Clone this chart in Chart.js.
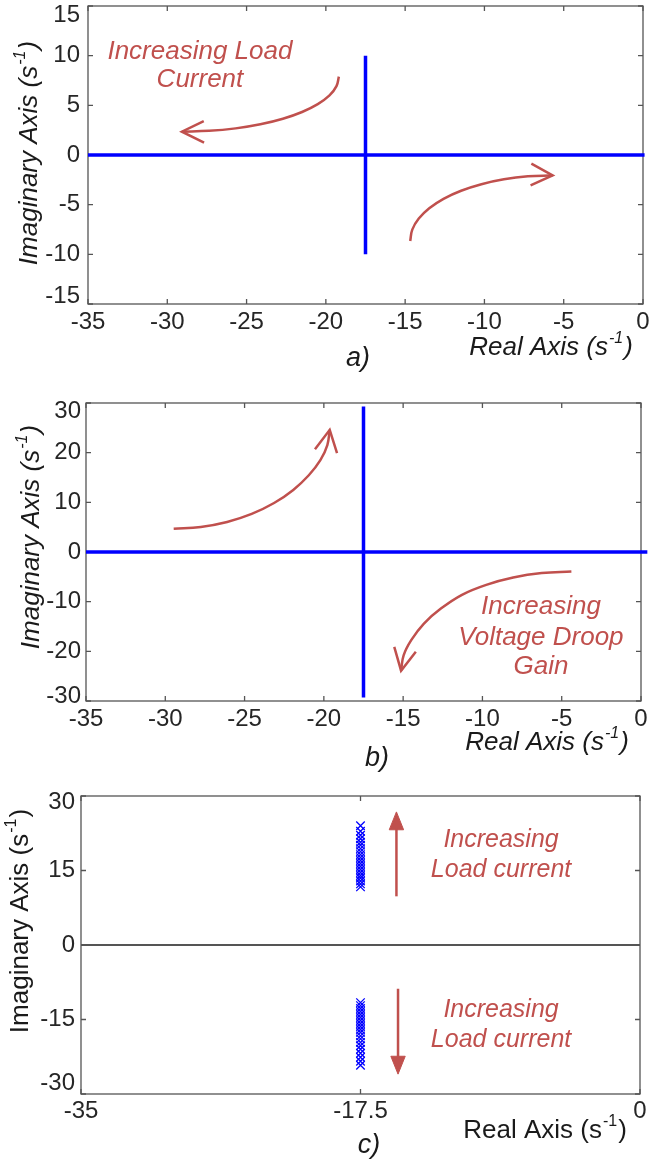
<!DOCTYPE html>
<html>
<head>
<meta charset="utf-8">
<script src="https://cdn.jsdelivr.net/npm/chart.js@4.4.0/dist/chart.umd.min.js"></script>
<style>
  html, body { margin: 0; padding: 0; background: #fff; }
  body { width: 666px; height: 1164px; position: relative; overflow: hidden; }
  canvas { position: absolute; left: 0; }
</style>
</head>
<body>
<canvas id="chartA"></canvas>
<canvas id="chartB"></canvas>
<canvas id="chartC"></canvas>
<script>
// ---------- a) load current sweep ----------
const aXTicks = [-35, -30, -25, -20, -15, -10, -5, 0];
const aYTicks = [-15, -10, -5, 0, 5, 10, 15];
const aRealBranchX = [-35, 0.1];
const aRealBranchY = [0, 0];
const aImagBranchX = [-17.5, -17.5];
const aImagBranchY = [-10, 10];
const aArrow1X = [-19.18, -19.33, -19.77, -20.51, -21.5, -22.71, -24.13, -25.69, -27.36, -29.08];
const aArrow1Y = [7.89, 6.93, 6.0, 5.12, 4.33, 3.65, 3.09, 2.68, 2.43, 2.35];
const aHead1X = [-27.7, -29.08, -27.68];
const aHead1Y = [3.42, 2.35, 1.24];
const aArrow2X = [-14.68, -14.55, -14.14, -13.48, -12.58, -11.47, -10.19, -8.77, -7.26, -5.7];
const aArrow2Y = [-8.66, -7.51, -6.4, -5.36, -4.41, -3.6, -2.94, -2.45, -2.15, -2.05];
const aHead2X = [-7.04, -5.7, -7.09];
const aHead2Y = [-0.87, -2.05, -3.05];

// ---------- b) voltage droop gain sweep ----------
const bXTicks = [-35, -30, -25, -20, -15, -10, -5, 0];
const bYTicks = [-30, -20, -10, 0, 10, 20, 30];
const bRealBranchX = [-35, 0.4];
const bRealBranchY = [0, 0];
const bImagBranchX = [-17.5, -17.5];
const bImagBranchY = [-29.3, 29.3];
const bArrow1X = [-29.47, -27.76, -26.1, -24.55, -23.14, -21.93, -20.95, -20.22, -19.78, -19.63];
const bArrow1Y = [4.7, 5.05, 6.05, 7.67, 9.86, 12.5, 15.45, 18.49, 21.54, 24.6];
const bHead1X = [-20.56, -19.63, -19.17];
const bHead1Y = [20.7, 24.6, 19.9];
const bArrow2X = [-4.39, -6.26, -8.06, -9.76, -11.29, -12.62, -13.69, -14.48, -14.97, -15.13];
const bArrow2Y = [-3.95, -4.25, -5.15, -6.62, -8.62, -11.4, -14.4, -17.7, -20.8, -23.9];
const bHead2X = [-15.56, -15.13, -14.2];
const bHead2Y = [-19.1, -23.9, -20.1];

// ---------- c) poles for increasing load current ----------
const cXTicks = [-35, -17.5, 0];
const cYTicks = [-30, -15, 0, 15, 30];
const cPoleReal = -17.5;
const cUpperImag = [11.7, 12.3, 12.9, 13.5, 14.0, 14.6, 15.2, 15.8, 16.4, 17.0, 17.6, 18.2, 18.8, 19.4, 20.1, 20.7, 21.4, 22.1, 22.9, 24.0];
const cLowerImag = [-11.6, -12.2, -12.8, -13.4, -14.0, -14.6, -15.2, -15.8, -16.4, -17.0, -17.6, -18.3, -18.9, -19.6, -20.3, -21.0, -21.8, -22.6, -23.4, -24.2];
const cUpShaftX = [-15.25, -15.25];
const cUpShaftY = [9.8, 23.5];
const cUpHeadX = [-15.7, -15.25, -14.8, -15.7];
const cUpHeadY = [23.2, 26.8, 23.2, 23.2];
const cDownShaftX = [-15.15, -15.15];
const cDownShaftY = [-8.8, -22.6];
const cDownHeadX = [-15.6, -15.15, -14.7, -15.6];
const cDownHeadY = [-22.4, -26.0, -22.4, -22.4];

const FONT = "'Liberation Sans', Arial, sans-serif";
const RED = '#c0504d';
const BLUE = '#0000ff';
const INK = '#1a1a1a';

function pts(xs, ys) {
  return xs.map((x, i) => ({ x: x, y: ys[i] }));
}

function lineSet(xs, ys, color, width, extra) {
  return Object.assign({
    data: pts(xs, ys),
    showLine: true,
    borderColor: color,
    borderWidth: width,
    pointRadius: 0,
    fill: false
  }, extra || {});
}

function curve(xs, ys) {
  return lineSet(xs, ys, RED, 2.5, { tension: 0.4 });
}

// text with a superscript part, centred on (x, y)
function supText(ctx, base, sup, tail, x, y, size, italic, rotate) {
  const st = italic ? 'italic ' : '';
  const f = st + size + 'px ' + FONT;
  const fs = st + Math.round(size * 0.6) + 'px ' + FONT;
  ctx.save();
  ctx.translate(x, y);
  if (rotate) ctx.rotate(-Math.PI / 2);
  ctx.font = f;
  const w1 = ctx.measureText(base).width;
  const w3 = ctx.measureText(tail).width;
  ctx.font = fs;
  const w2 = ctx.measureText(sup).width;
  let sx = -(w1 + w2 + w3 + 2) / 2;
  ctx.fillStyle = INK;
  ctx.textBaseline = 'middle';
  ctx.textAlign = 'left';
  ctx.font = f;
  ctx.fillText(base, sx, 0);
  ctx.font = fs;
  ctx.fillText(sup, sx + w1 + 1, -size * 0.36);
  ctx.font = f;
  ctx.fillText(tail, sx + w1 + w2 + 2, 0);
  ctx.restore();
}

function deco(cfg) {
  return {
    id: 'deco',
    beforeDatasetsDraw(chart) {
      const { ctx, chartArea: a, scales: { x, y } } = chart;
      ctx.save();
      ctx.strokeStyle = '#555';
      ctx.lineWidth = 1.3;
      ctx.strokeRect(a.left, a.top, a.right - a.left, a.bottom - a.top);
      ctx.beginPath();
      x.ticks.forEach(t => {
        const px = x.getPixelForValue(t.value);
        ctx.moveTo(px, a.bottom); ctx.lineTo(px, a.bottom - 5);
        ctx.moveTo(px, a.top); ctx.lineTo(px, a.top + 5);
      });
      y.ticks.forEach(t => {
        const py = y.getPixelForValue(t.value);
        ctx.moveTo(a.left, py); ctx.lineTo(a.left + 5, py);
        ctx.moveTo(a.right, py); ctx.lineTo(a.right - 5, py);
      });
      ctx.stroke();
      ctx.restore();
    },
    afterDatasetsDraw(chart) {
      const { ctx, scales: { x, y } } = chart;
      const off = cfg.canvasTop;
      ctx.save();
      ctx.fillStyle = RED;
      ctx.font = 'italic ' + cfg.noteSize + 'px ' + FONT;
      ctx.textAlign = 'center';
      ctx.textBaseline = 'middle';
      cfg.notes.forEach(n => {
        ctx.fillText(n.text, x.getPixelForValue(n.x), y.getPixelForValue(n.y));
      });
      ctx.restore();
      const t = cfg.titles;
      supText(ctx, 'Imaginary Axis (s', '-1', ')', t.yx, t.yy - off, 26, t.italic, true);
      supText(ctx, 'Real Axis (s', '-1', ')', t.xx, t.xy - off, 26, t.italic, false);
      ctx.save();
      ctx.fillStyle = INK;
      ctx.font = 'italic 27px ' + FONT;
      ctx.textAlign = 'center';
      ctx.textBaseline = 'middle';
      ctx.fillText(t.tag, t.tagx, t.tagy - off);
      ctx.restore();
    }
  };
}

function makePanel(id, cfg) {
  const canvas = document.getElementById(id);
  canvas.style.top = cfg.canvasTop + 'px';
  canvas.width = 666;
  canvas.height = cfg.canvasHeight;
  const area = cfg.area;
  const off = cfg.canvasTop;
  const size = cfg.tickSize;
  // end labels of the y axis sit a little inside the box, as in the original
  const yFont = c => {
    const v = c.tick ? c.tick.value : null;
    if (v === cfg.yMax) return { family: FONT, size: size, lineHeight: (2 * cfg.endShift[0]) + 'px' };
    if (v === cfg.yMin) return { family: FONT, size: size, lineHeight: (2 * cfg.endShift[1]) + 'px' };
    return { family: FONT, size: size };
  };
  const yLabel = v => {
    if (v === cfg.yMax) return ['', String(v)];
    if (v === cfg.yMin) return [String(v), ''];
    return String(v);
  };
  return new Chart(canvas, {
    type: 'scatter',
    data: { datasets: cfg.datasets },
    options: {
      responsive: false,
      animation: false,
      layout: { padding: { top: area.top - off, right: 666 - area.right, left: 0, bottom: 0 } },
      plugins: { legend: { display: false }, tooltip: { enabled: false } },
      scales: {
        x: {
          type: 'linear', min: cfg.xMin, max: cfg.xMax,
          afterBuildTicks: s => { s.ticks = cfg.xTicks.map(v => ({ value: v })); },
          afterFit: s => { s.height = off + cfg.canvasHeight - area.bottom; },
          grid: { display: false, drawTicks: false },
          border: { display: false },
          ticks: { font: { family: FONT, size: size }, color: '#262626', padding: cfg.xPad,
                   maxRotation: 0, autoSkip: false, callback: v => String(v) }
        },
        y: {
          type: 'linear', min: cfg.yMin, max: cfg.yMax,
          afterBuildTicks: s => { s.ticks = cfg.yTicks.map(v => ({ value: v })); },
          afterFit: s => { s.width = area.left; },
          grid: cfg.zeroLine
            ? { display: true, drawTicks: false, lineWidth: 2,
                color: c => (c.tick && c.tick.value === 0 ? '#555' : 'rgba(0,0,0,0)') }
            : { display: false, drawTicks: false },
          border: { display: false },
          ticks: { font: yFont, color: '#262626', padding: cfg.yPad, autoSkip: false, callback: yLabel }
        }
      }
    },
    plugins: [deco(cfg)]
  });
}

makePanel('chartA', {
  canvasTop: -20, canvasHeight: 405,
  area: { left: 88, right: 643, top: 6, bottom: 304 },
  xMin: -35, xMax: 0, yMin: -15, yMax: 15,
  xTicks: aXTicks, yTicks: aYTicks, tickSize: 24, xPad: 4, yPad: 8, endShift: [9, 8],
  noteSize: 26,
  datasets: [
    lineSet(aRealBranchX, aRealBranchY, BLUE, 3.5, { clip: false }),
    lineSet(aImagBranchX, aImagBranchY, BLUE, 3.5),
    curve(aArrow1X, aArrow1Y),
    lineSet(aHead1X, aHead1Y, RED, 2.5),
    curve(aArrow2X, aArrow2Y),
    lineSet(aHead2X, aHead2Y, RED, 2.5)
  ],
  notes: [
    { text: 'Increasing Load', x: -27.94, y: 10.44 },
    { text: 'Current', x: -27.94, y: 7.62 }
  ],
  titles: { italic: true, yx: 30, yy: 153, xx: 551, xy: 348, tag: 'a)', tagx: 358, tagy: 358 }
});

makePanel('chartB', {
  canvasTop: 375, canvasHeight: 400,
  area: { left: 86, right: 641, top: 403, bottom: 701 },
  xMin: -35, xMax: 0, yMin: -30, yMax: 30,
  xTicks: bXTicks, yTicks: bYTicks, tickSize: 24, xPad: 4, yPad: 5, endShift: [8, 5],
  noteSize: 26,
  datasets: [
    lineSet(bRealBranchX, bRealBranchY, BLUE, 3.5, { clip: false }),
    lineSet(bImagBranchX, bImagBranchY, BLUE, 3.5),
    curve(bArrow1X, bArrow1Y),
    lineSet(bHead1X, bHead1Y, RED, 2.5),
    curve(bArrow2X, bArrow2Y),
    lineSet(bHead2X, bHead2Y, RED, 2.5)
  ],
  notes: [
    { text: 'Increasing', x: -6.31, y: -11.07 },
    { text: 'Voltage Droop', x: -6.31, y: -17.3 },
    { text: 'Gain', x: -6.31, y: -23.2 }
  ],
  titles: { italic: true, yx: 32, yy: 537, xx: 547, xy: 743, tag: 'b)', tagx: 377, tagy: 758 }
});

makePanel('chartC', {
  canvasTop: 765, canvasHeight: 399,
  area: { left: 81, right: 640, top: 796, bottom: 1094 },
  xMin: -35, xMax: 0, yMin: -30, yMax: 30,
  xTicks: cXTicks, yTicks: cYTicks, tickSize: 24, xPad: 3, yPad: 6, endShift: [6, 11],
  noteSize: 25, zeroLine: true,
  datasets: [
    { data: cUpperImag.map(v => ({ x: cPoleReal, y: v })), pointStyle: 'crossRot', pointRadius: 6,
      borderColor: BLUE, borderWidth: 1.3, showLine: false },
    { data: cLowerImag.map(v => ({ x: cPoleReal, y: v })), pointStyle: 'crossRot', pointRadius: 6,
      borderColor: BLUE, borderWidth: 1.3, showLine: false },
    lineSet(cUpShaftX, cUpShaftY, RED, 2.5),
    lineSet(cUpHeadX, cUpHeadY, RED, 1, { fill: 'shape', backgroundColor: RED }),
    lineSet(cDownShaftX, cDownShaftY, RED, 2.5),
    lineSet(cDownHeadX, cDownHeadY, RED, 1, { fill: 'shape', backgroundColor: RED })
  ],
  notes: [
    { text: 'Increasing', x: -8.7, y: 21.07 },
    { text: 'Load current', x: -8.7, y: 15.04 },
    { text: 'Increasing', x: -8.7, y: -13.1 },
    { text: 'Load current', x: -8.7, y: -19.2 }
  ],
  titles: { italic: false, yx: 21, yy: 921, xx: 545, xy: 1131, tag: 'c)', tagx: 369, tagy: 1145 }
});
</script>
</body>
</html>
